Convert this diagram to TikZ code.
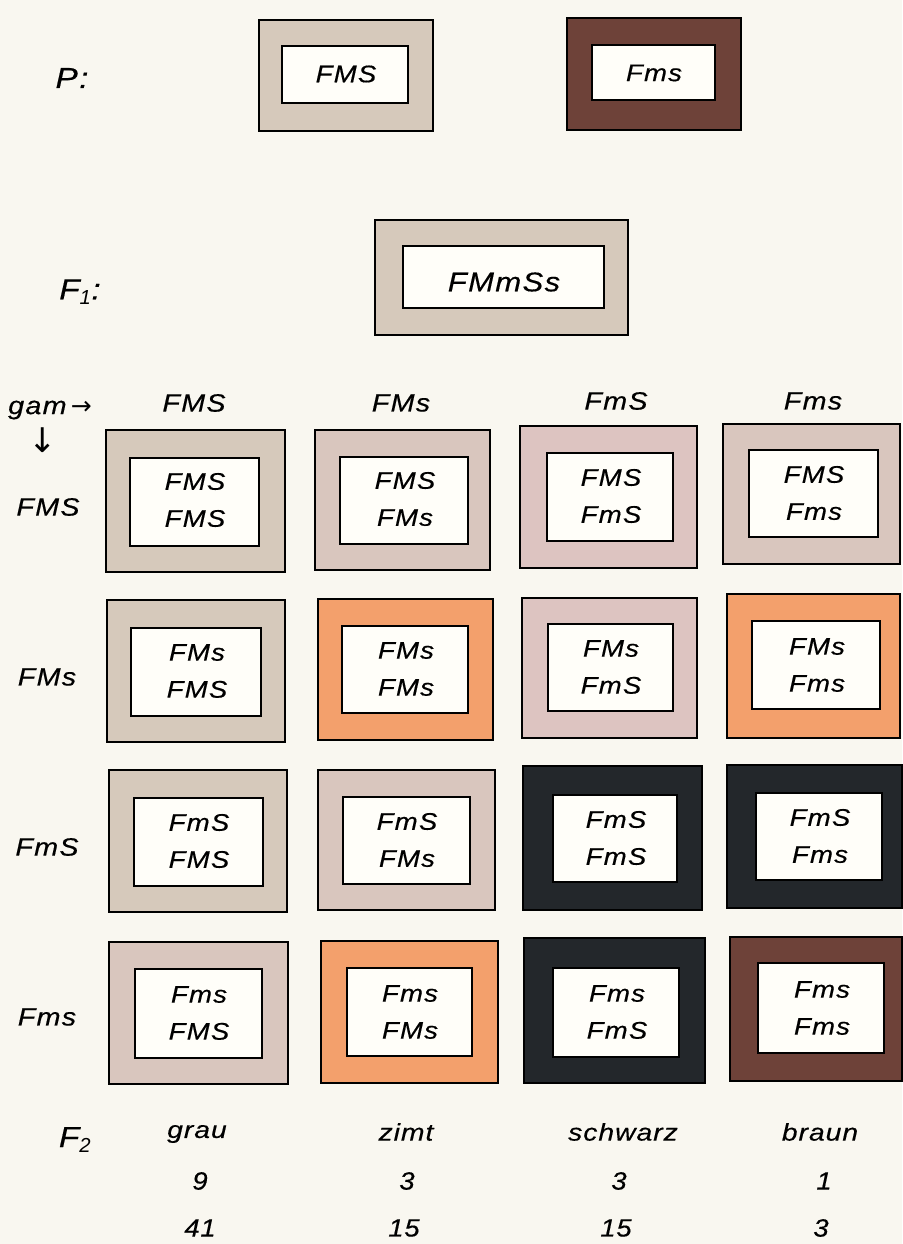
\documentclass[tikz,border=0pt]{standalone}
\usepackage{fontspec}
\setmainfont{Liberation Sans}
\newfontfamily\arrowfont{DejaVu Sans}
\newfontfamily\boxfont[FakeStretch=1.15,LetterSpace=5,FakeBold=0.4]{Liberation Sans}
\newfontfamily\footfont[FakeStretch=1.18,LetterSpace=4,FakeBold=0.3]{Liberation Sans}
\newfontfamily\numfont[FakeStretch=1.1,LetterSpace=3,FakeBold=0.3]{Liberation Sans}
\definecolor{paper}{HTML}{F9F7F0}
\definecolor{inwhite}{HTML}{FFFEF9}
\definecolor{grauA}{HTML}{D6C9BB}
\definecolor{grauB}{HTML}{D9C6BE}
\definecolor{grauC}{HTML}{DDC4C1}
\definecolor{zimt}{HTML}{F3A06C}
\definecolor{schwarz}{HTML}{23272B}
\definecolor{braun}{HTML}{6E4239}
\newcommand\cellbox[9]{%
  \path[frame,fill=#9] (#1,#2) rectangle (#3,#4);
  \path[win] (#5,#6) rectangle (#7,#8);}
\begin{document}
\begin{tikzpicture}[x=1pt,y=-1pt,
  frame/.style={draw=black,line width=1.6pt},
  win/.style={draw=black,line width=1.6pt,fill=inwhite},
  lab/.style={inner sep=0pt,align=center,font=\boxfont\fontsize{24}{37}\selectfont\itshape},
  big/.style={inner sep=0pt,font=\boxfont\fontsize{29}{34}\selectfont\itshape},
  head/.style={inner sep=0pt,font=\boxfont\fontsize{25}{32}\selectfont\itshape},
  foot/.style={inner sep=0pt,font=\footfont\fontsize{24}{28}\selectfont\itshape},
  num/.style={inner sep=0pt,font=\numfont\fontsize{25}{30}\selectfont\itshape}]
\fill[paper] (0,0) rectangle (902,1244);
\useasboundingbox (0,0) rectangle (902,1244);
% P
\node[big] (P) at (72,78) {P:};
\cellbox{259}{20}{433}{131}{282}{46}{408}{103}{grauA}
\node[lab] (p1) at (346,74) {FMS};
\cellbox{567}{18}{741}{130}{592}{45}{715}{100}{braun}
\node[lab] (p2) at (654,73) {Fms};
% F1
\node[big] (F1) at (80,292) {F$_{\mathit 1}$:};
\cellbox{375}{220}{628}{335}{403}{246}{604}{308}{grauA}
\node[lab,font=\boxfont\fontsize{27}{34}\selectfont\itshape] (f1) at (504,282) {FMmSs};
% headers
\node[head,anchor=west] (gam) at (8,410) {gam\,{\arrowfont →}};
\node[inner sep=0pt,font=\arrowfont\fontsize{34}{34}\selectfont] (down) at (43,440) {↓};
\node[head] (h1) at (194,403) {FMS};
\node[head] (h2) at (401,403) {FMs};
\node[head] (h3) at (616,401) {FmS};
\node[head] (h4) at (813,401) {Fms};
\node[head] (r1) at (48,507) {FMS};
\node[head] (r2) at (47,677) {FMs};
\node[head] (r3) at (47,847) {FmS};
\node[head] (r4) at (47,1017) {Fms};
% row 1
\cellbox{106}{430}{285}{572}{130}{458}{259}{546}{grauA}
\node[lab] (c11) at (195,500) {FMS\\FMS};
\cellbox{315}{430}{490}{570}{340}{457}{468}{544}{grauB}
\node[lab] (c12) at (405,499) {FMS\\FMs};
\cellbox{520}{426}{697}{568}{547}{453}{673}{541}{grauC}
\node[lab] (c13) at (611,496) {FMS\\FmS};
\cellbox{723}{424}{900}{564}{749}{450}{878}{537}{grauB}
\node[lab] (c14) at (814,493) {FMS\\Fms};
% row 2
\cellbox{107}{600}{285}{742}{131}{628}{261}{716}{grauA}
\node[lab] (c21) at (197,671) {FMs\\FMS};
\cellbox{318}{599}{493}{740}{342}{626}{468}{713}{zimt}
\node[lab] (c22) at (406,669) {FMs\\FMs};
\cellbox{522}{598}{697}{738}{548}{624}{673}{711}{grauC}
\node[lab] (c23) at (611,667) {FMs\\FmS};
\cellbox{727}{594}{900}{738}{752}{621}{880}{709}{zimt}
\node[lab] (c24) at (817,665) {FMs\\Fms};
% row 3
\cellbox{109}{770}{287}{912}{134}{798}{263}{886}{grauA}
\node[lab] (c31) at (199,841) {FmS\\FMS};
\cellbox{318}{770}{495}{910}{343}{797}{470}{884}{grauB}
\node[lab] (c32) at (407,840) {FmS\\FMs};
\cellbox{523}{766}{702}{910}{553}{795}{677}{882}{schwarz}
\node[lab] (c33) at (616,838) {FmS\\FmS};
\cellbox{727}{765}{902}{908}{756}{793}{882}{880}{schwarz}
\node[lab] (c34) at (820,836) {FmS\\Fms};
% row 4
\cellbox{109}{942}{288}{1084}{135}{969}{262}{1058}{grauB}
\node[lab] (c41) at (199,1013) {Fms\\FMS};
\cellbox{321}{941}{498}{1083}{347}{968}{472}{1056}{zimt}
\node[lab] (c42) at (410,1012) {Fms\\FMs};
\cellbox{524}{938}{705}{1083}{553}{968}{679}{1057}{schwarz}
\node[lab] (c43) at (617,1012) {Fms\\FmS};
\cellbox{730}{937}{902}{1081}{758}{963}{884}{1053}{braun}
\node[lab] (c44) at (822,1008) {Fms\\Fms};
% F2
\node[big] (F2) at (75,1140) {F$_{\mathit 2}$};
\node[foot] (g) at (197,1134) {grau};
\node[foot] (z) at (406,1132) {zimt};
\node[foot] (s) at (623,1132) {schwarz};
\node[foot] (b) at (820,1132) {braun};
\node[num] (n11) at (200,1181) {9};
\node[num] (n12) at (407,1181) {3};
\node[num] (n13) at (619,1181) {3};
\node[num] (n14) at (824,1181) {1};
\node[num] (n21) at (200,1228) {41};
\node[num] (n22) at (404,1228) {15};
\node[num] (n23) at (616,1228) {15};
\node[num] (n24) at (821,1228) {3};
\end{tikzpicture}
\end{document}
